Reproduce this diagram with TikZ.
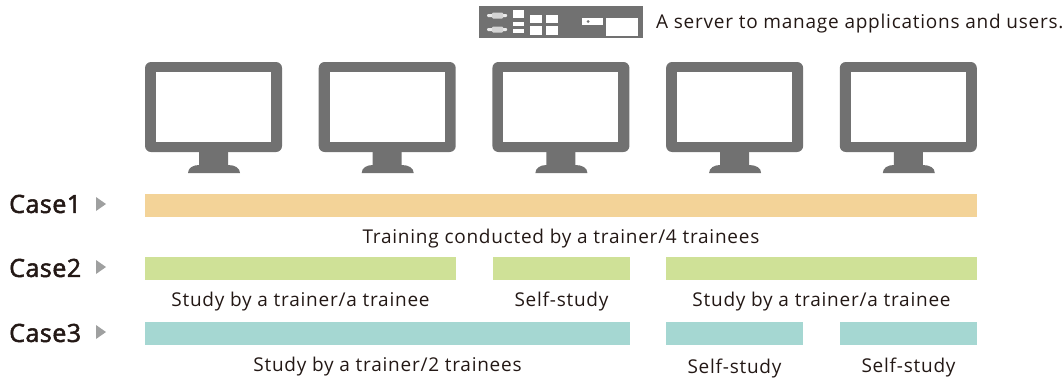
\documentclass[tikz,border=0pt]{standalone}
\usepackage{fontspec}
\setmainfont{Open Sans}
\newfontfamily\lblfont[LetterSpace=4]{Open Sans}
\newfontfamily\casefont[FakeBold=2,LetterSpace=2]{Open Sans}
\usetikzlibrary{positioning}
\definecolor{inkc}{HTML}{231815}
\definecolor{greyc}{HTML}{717171}
\definecolor{tric}{HTML}{9FA0A0}
\definecolor{orangec}{HTML}{F3D398}
\definecolor{greenc}{HTML}{CFE197}
\definecolor{tealc}{HTML}{A5D7D2}

\begin{document}
\begin{tikzpicture}[
    x=1pt, y=-1pt,
    node distance = 12pt and 12pt,
    bar/.style = {rectangle, inner sep=0pt, minimum height=23pt},
    lbl/.style = {inner sep=0pt, text=inkc, text height=14pt, text depth=4pt,
      font=\fontsize{19}{21}\lblfont},
    casename/.style = {inner sep=0pt, anchor=west, text=inkc,
      font=\fontsize{25}{28}\casefont},
    hole/.style = {fill=white, draw=none},
    tri/.style = {fill=tric, draw=none}
    ]

  \useasboundingbox (0,0) rectangle (1064,378);

  % server
  \fill[greyc] (479,6) rectangle (643,38);
  \foreach \y in {15.5,29.5} {
    \fill[white!85!greyc, rounded corners=1pt] (487,\y-1.5) rectangle (507,\y+1.5);
    \fill[white!70!greyc, rounded corners=1pt] (492,\y-3) rectangle (503,\y+3);
  }
  \fill[hole] (513,10) rectangle (524,18);
  \fill[hole] (513,22) rectangle (524,26);
  \fill[hole] (513,29) rectangle (524,33);
  \fill[hole] (530,14.5) rectangle (542,23);
  \fill[hole] (546,14.5) rectangle (558,23);
  \fill[hole] (530,26) rectangle (542,34.5);
  \fill[hole] (546,26) rectangle (558,34.5);
  \fill[hole] (582,18) rectangle (603,25);
  \fill[greyc] (588,21.5) circle (1.5);
  \fill[hole] (606,18) rectangle (638,35.5);
  \node[lbl, anchor=west] (server) at (656,23) {A server to manage applications and users.};

  % monitors
  \foreach \x in {145,318.7,492.4,666.1,839.8} {
    \begin{scope}[xshift=\x pt]
      \fill[greyc, rounded corners=6pt] (0,62) rectangle (137,152);
      \fill[hole] (11,72) rectangle (126,142);
      \fill[greyc] (54,150) -- (83,150) -- (83,165)
        .. controls (90,165) and (95,168) .. (95,173)
        -- (43,173) .. controls (43,168) and (48,165) .. (54,165) -- cycle;
    \end{scope}
  }

  % cases
  \node[casename] (case1) at (9,204) {Case1};
  \node[casename] (case2) at (9,268) {Case2};
  \node[casename] (case3) at (9,333) {Case3};
  \foreach \y in {204,267,332} {
    \fill[tri] (96,\y-7) -- (106,\y) -- (96,\y+7) -- cycle;
  }

  % bars
  \node[bar, fill=orangec, minimum width=832pt] (full) at (561,205.5) {};
  \node[bar, fill=greenc, minimum width=311pt] (gleft) at (300.5,268.5) {};
  \node[bar, fill=greenc, minimum width=137pt] (gmid) at (561.5,268.5) {};
  \node[bar, fill=greenc, minimum width=311pt] (gright) at (821.5,268.5) {};
  \node[bar, fill=tealc, minimum width=485pt] (tleft) at (387.5,333.5) {};
  \node[bar, fill=tealc, minimum width=137pt] (tmid) at (734.5,333.5) {};
  \node[bar, fill=tealc, minimum width=137pt] (tright) at (908.5,333.5) {};

  \node[lbl] (fulltxt) [below=of full] {Training conducted by a trainer/4 trainees};
  \node[lbl] (glefttxt) [below=of gleft] {Study by a trainer/a trainee};
  \node[lbl] (gmidtxt) [below=of gmid] {Self-study};
  \node[lbl] (grighttxt) [below=of gright] {Study by a trainer/a trainee};
  \node[lbl] (tlefttxt) [below=of tleft] {Study by a trainer/2 trainees};
  \node[lbl] (tmidtxt) [below=of tmid, yshift=-2pt] {Self-study};
  \node[lbl] (trighttxt) [below=of tright, yshift=-1pt] {Self-study};

\end{tikzpicture}
\end{document}
